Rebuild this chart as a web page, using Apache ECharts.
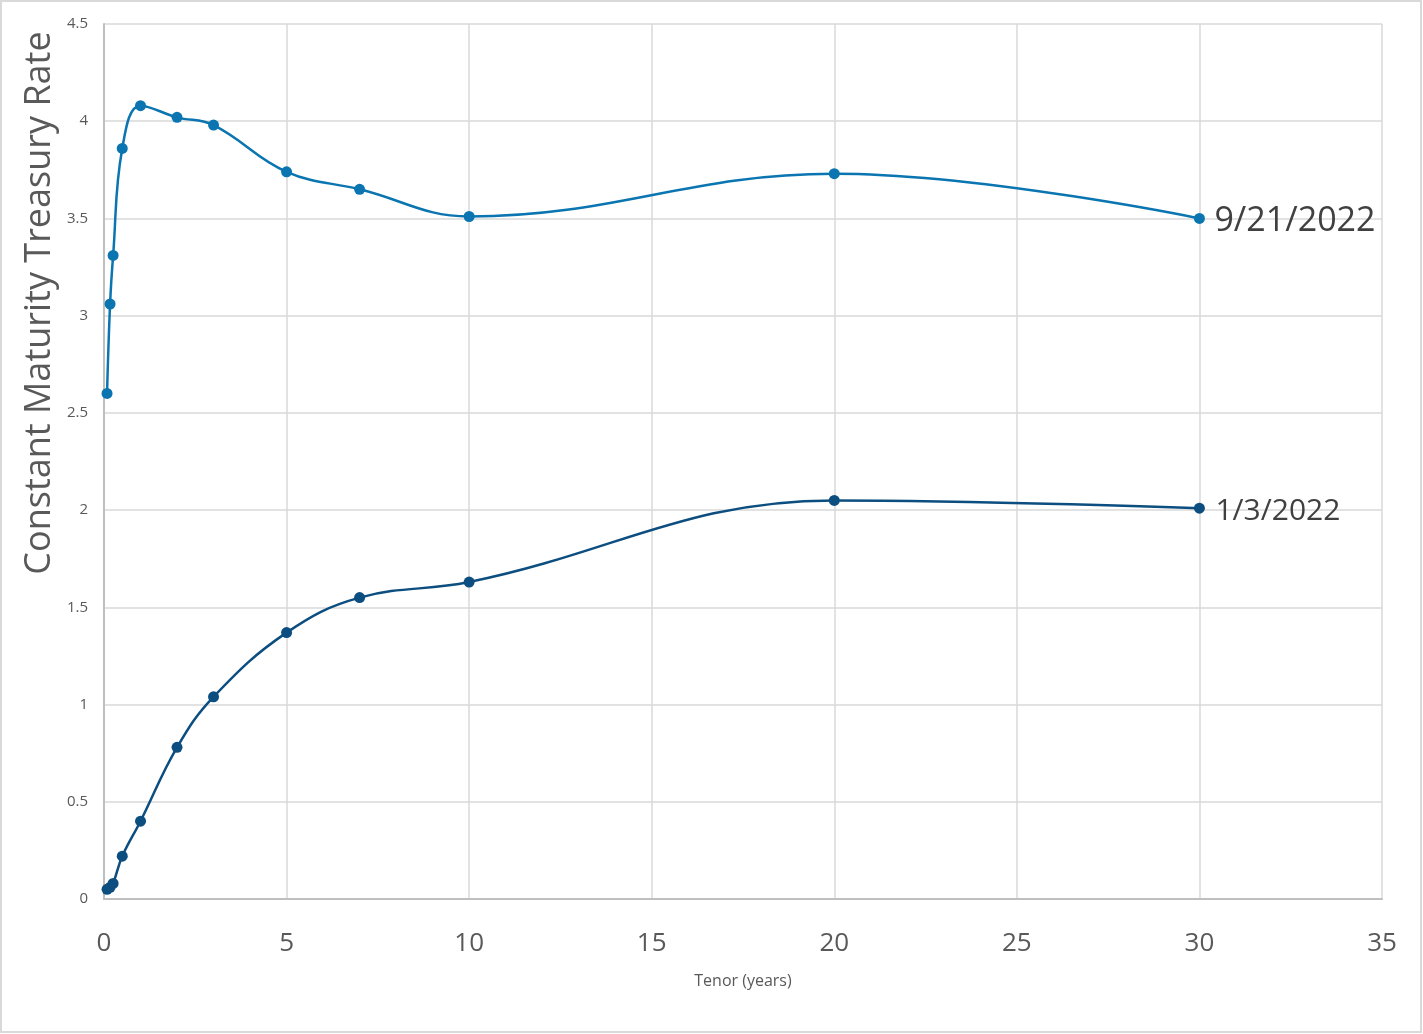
<!DOCTYPE html>
<html>
<head>
<meta charset="utf-8">
<script src="https://cdn.jsdelivr.net/npm/echarts@6/dist/echarts.min.js"></script>
<style>html,body{margin:0;padding:0;background:#fff}#c{width:1423px;height:1034px}</style>
</head>
<body>
<div id="c"></div>
<script>
const tenors = [1/12, 2/12, 3/12, 0.5, 1, 2, 3, 5, 7, 10, 20, 30];
const rates_2022_09_21 = [2.60, 3.06, 3.31, 3.86, 4.08, 4.02, 3.98, 3.74, 3.65, 3.51, 3.73, 3.50];
const rates_2022_01_03 = [0.05, 0.06, 0.08, 0.22, 0.40, 0.78, 1.04, 1.37, 1.55, 1.63, 2.05, 2.01];
const seriesNames = ['9/21/2022', '1/3/2022'];
const xTicks = [0, 5, 10, 15, 20, 25, 30, 35];
const yTicks = [0, 0.5, 1, 1.5, 2, 2.5, 3, 3.5, 4, 4.5];

const font = '"Open Sans", "Liberation Sans", sans-serif';
const pair = (xs, ys) => xs.map((x, i) => [x, ys[i]]);

const chart = echarts.init(document.getElementById('c'), null, {renderer: 'canvas'});
chart.setOption({
  animation: false,
  backgroundColor: '#fff',
  grid: {left: 104, right: 41, top: 24, bottom: 135, containLabel: false},
  xAxis: {
    type: 'value', min: xTicks[0], max: xTicks[xTicks.length - 1], interval: 5,
    name: 'Tenor (years)', nameLocation: 'middle', nameGap: 74,
    nameTextStyle: {fontFamily: font, fontSize: 16, color: '#595959'},
    axisLine: {show: true, lineStyle: {color: '#BFBFBF', width: 2}},
    axisTick: {show: false},
    splitLine: {show: true, lineStyle: {color: '#D9D9D9', width: 1.5}},
    axisLabel: {fontFamily: font, fontSize: 26, color: '#595959', margin: 32}
  },
  yAxis: {
    type: 'value', min: yTicks[0], max: yTicks[yTicks.length - 1], interval: 0.5,
    axisLine: {show: true, lineStyle: {color: '#BFBFBF', width: 2}},
    axisTick: {show: false},
    splitLine: {show: true, lineStyle: {color: '#D9D9D9', width: 1.5}},
    axisLabel: {fontFamily: font, fontSize: 15, color: '#595959', margin: 16}
  },
  graphic: [
    {type: 'rect', shape: {x: 1, y: 1, width: 1420, height: 1031}, style: {fill: 'none', stroke: '#D9D9D9', lineWidth: 2}, silent: true},
    {type: 'text', x: 40, y: 303, rotation: Math.PI / 2,
     style: {text: 'Constant Maturity Treasury Rate', fontFamily: font, fontSize: 36, fill: '#595959', align: 'center', verticalAlign: 'middle'}}
  ],
  series: [
    {
      name: seriesNames[0], type: 'line', smooth: 0.4,
      data: pair(tenors, rates_2022_09_21),
      symbol: 'circle', symbolSize: 11,
      lineStyle: {color: '#0A75B0', width: 2.5},
      itemStyle: {color: '#0A75B0'},
      endLabel: {show: true, formatter: '{a}', fontFamily: font, fontSize: 34, color: '#404040', distance: 15, offset: [0, 3]}
    },
    {
      name: seriesNames[1], type: 'line', smooth: 0.4,
      data: pair(tenors, rates_2022_01_03),
      symbol: 'circle', symbolSize: 11,
      lineStyle: {color: '#0D4E80', width: 2.5},
      itemStyle: {color: '#0D4E80'},
      endLabel: {show: true, formatter: '{a}', fontFamily: font, fontSize: 30, color: '#404040', distance: 16, offset: [0, 3]}
    }
  ]
});
</script>
</body>
</html>
